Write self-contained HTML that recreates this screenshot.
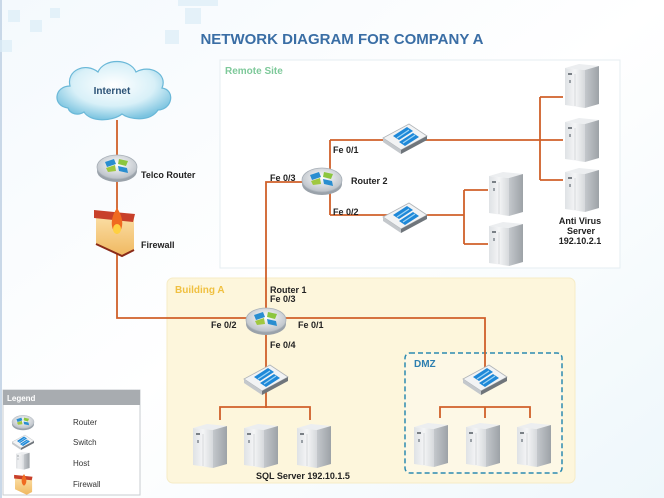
<!DOCTYPE html>
<html><head><meta charset="utf-8"><style>
html,body{margin:0;padding:0;background:#fff;}
svg{display:block;font-family:"Liberation Sans",Arial,sans-serif;}
</style></head><body>
<svg width="664" height="498" viewBox="0 0 664 498" xmlns="http://www.w3.org/2000/svg">
<defs>
<linearGradient id="bg" x1="0" y1="0" x2="1" y2="1"><stop offset="0" stop-color="#f4f9fd"/><stop offset="0.5" stop-color="#ffffff"/><stop offset="1" stop-color="#eef7fb"/></linearGradient>
<linearGradient id="hostg" x1="0" y1="0" x2="1" y2="0"><stop offset="0" stop-color="#dfe2e5"/><stop offset="0.5" stop-color="#f4f5f6"/><stop offset="1" stop-color="#d6d9dc"/></linearGradient>
<linearGradient id="hosts" x1="0" y1="0" x2="1" y2="0"><stop offset="0" stop-color="#c4c8cc"/><stop offset="1" stop-color="#9da2a7"/></linearGradient>
<radialGradient id="rtg" cx="0.5" cy="0.4" r="0.6"><stop offset="0" stop-color="#ffffff"/><stop offset="1" stop-color="#b9bfc6"/></radialGradient>
<linearGradient id="fwg" x1="0" y1="0" x2="0" y2="1"><stop offset="0" stop-color="#fbe0a8"/><stop offset="1" stop-color="#f0b860"/></linearGradient>
<radialGradient id="cloudg" cx="0.5" cy="0.4" r="0.6"><stop offset="0" stop-color="#ffffff"/><stop offset="0.6" stop-color="#d8f0f8"/><stop offset="1" stop-color="#7cc4e0"/></radialGradient>
<g id="router">
<ellipse cx="0" cy="4" rx="20" ry="11" fill="#9aa2aa"/>
<ellipse cx="0" cy="0" rx="20" ry="12" fill="url(#rtg)" stroke="#a8b0b8" stroke-width="0.8"/>
<path d="M-12,-5 L-3,-8 L-1,-3 L-10,0Z" fill="#2a8ed0"/>
<path d="M2,-8 L11,-6 L9,-1 L1,-3Z" fill="#8cc63f"/>
<path d="M-11,1 L-2,-2 L-1,4 L-9,5Z" fill="#a0c840"/>
<path d="M1,-1 L10,1 L11,6 L2,4Z" fill="#2a8ed0"/>
</g>
<g id="switch">
<path d="M-22,2 L4,-12 L22,0 L-4,14Z" fill="#f2f3f4" stroke="#b0b4b8" stroke-width="0.8"/>
<path d="M-22,2 L-4,14 L-4,18 L-22,6Z" fill="#c4c8cc"/>
<path d="M-4,14 L22,0 L22,4 L-4,18Z" fill="#6f757b"/>
<path d="M-12,0 L2,-9 L8,-5 L-6,4Z" fill="#1e88d8"/>
<path d="M-6,6 L8,-3 L14,1 L0,10Z" fill="#1e88d8"/>
<path d="M-8,2 L4,-6" stroke="#9fd6f6" stroke-width="1.2"/>
<path d="M-2,7 L10,-1" stroke="#9fd6f6" stroke-width="1.2"/>
</g>
<g id="host">
<path d="M0,4 L20,6 L20,44 L0,41Z" fill="url(#hostg)"/>
<path d="M0,4 L14,0 L34,2 L20,6Z" fill="#eceef0"/>
<path d="M20,6 L34,2 L34,40 L20,44Z" fill="url(#hosts)"/>
<rect x="3" y="9" width="4" height="2" fill="#7a8086"/>
<rect x="4" y="16" width="2" height="3" fill="#9aa0a6"/>
<line x1="10" y1="10" x2="10" y2="42" stroke="#d0d3d6" stroke-width="0.8"/>
</g>
</defs>
<rect width="664" height="498" fill="url(#bg)"/>
<line x1="1" y1="0" x2="1" y2="498" stroke="#c9d8e8" stroke-width="2"/>
<g fill="#dceef8" opacity="0.7">
<rect x="8" y="10" width="12" height="12"/><rect x="30" y="20" width="12" height="12"/><rect x="0" y="40" width="12" height="12"/><rect x="50" y="8" width="10" height="10"/><rect x="185" y="8" width="16" height="16"/><rect x="165" y="30" width="14" height="14"/><rect x="178" y="0" width="40" height="6"/>
</g>
<text x="342" y="44" font-size="15" font-weight="bold" fill="#3a6ea5" text-anchor="middle">NETWORK DIAGRAM FOR COMPANY A</text>

<rect x="220" y="60" width="400" height="208" fill="#ffffff" stroke="#e6eef2" stroke-width="1"/>
<text x="225" y="74" font-size="10" font-weight="bold" fill="#7ec99a">Remote Site</text>
<rect x="167" y="278" width="408" height="205" rx="6" fill="#fdf6dc" stroke="#f6ecc6"/>
<text x="175" y="293" font-size="10" font-weight="bold" fill="#f0c040">Building A</text>
<rect x="405" y="353" width="157" height="120" rx="5" fill="#fdf8e6" stroke="#2c8ab0" stroke-width="1.5" stroke-dasharray="5,3"/>
<text x="414" y="367" font-size="10" font-weight="bold" fill="#2d7fb0">DMZ</text>

<g stroke="#d0602a" stroke-width="1.8" fill="none">
<path d="M117,120 V318 H485 V372"/>
<path d="M266,318 V182 H316"/>
<path d="M266,318 V408"/>
<path d="M330,140 V215"/>
<path d="M330,140 H540"/>
<path d="M330,215 H464"/>
<path d="M540,97 V180 M540,97 H563 M540,140 H563 M540,180 H563"/>
<path d="M464,190 V244 M464,190 H488 M464,244 H488"/>
<path d="M220,420 V407 H310 V420"/>
<path d="M440,418 V407 H530 V418 M485,407 V418"/>
</g>

<g>
<path d="M68,108 C52,106 54,86 70,86 C66,70 86,62 98,72 C104,58 130,58 136,72 C150,64 168,74 162,88 C176,90 172,110 158,110 C150,122 130,120 122,114 C112,122 90,122 84,112 C78,116 70,114 68,108Z" fill="url(#cloudg)" stroke="#6ab8d8" stroke-width="1.2"/>
<text x="112" y="94" font-size="10" font-weight="bold" fill="#2b5276" text-anchor="middle">Internet</text>
</g>

<use href="#router" x="117" y="167"/>
<text x="141" y="178" font-size="9" font-weight="bold" fill="#222">Telco Router</text>
<g>
<path d="M96,214 L134,216 L134,250 L122,256 L96,244Z" fill="url(#fwg)"/>
<path d="M94,210 L135,214 L133,222 L94,218Z" fill="#c8402a"/>
<path d="M96,244 L122,256 L134,250" stroke="#8a2a18" stroke-width="2" fill="none"/>
<path d="M117,208 C110,218 110,230 117,234 C124,230 124,218 117,208Z" fill="#f06a20"/>
<ellipse cx="117" cy="229" rx="4" ry="5" fill="#ffd040"/>
</g>
<text x="141" y="248" font-size="9" font-weight="bold" fill="#222">Firewall</text>

<use href="#router" x="322" y="180"/>
<text x="270" y="181" font-size="9" font-weight="bold" fill="#222">Fe 0/3</text>
<text x="351" y="184" font-size="9" font-weight="bold" fill="#222">Router 2</text>
<text x="333" y="153" font-size="9" font-weight="bold" fill="#222">Fe 0/1</text>
<text x="333" y="215" font-size="9" font-weight="bold" fill="#222">Fe 0/2</text>
<use href="#switch" x="405" y="136"/>
<use href="#switch" x="405" y="215"/>
<use href="#host" x="565" y="64"/>
<use href="#host" x="565" y="118"/>
<use href="#host" x="565" y="168"/>
<use href="#host" x="489" y="172"/>
<use href="#host" x="489" y="222"/>
<g font-size="9" font-weight="bold" fill="#222" text-anchor="middle">
<text x="580" y="224">Anti Virus</text><text x="581" y="234">Server</text><text x="580" y="244">192.10.2.1</text>
</g>

<use href="#router" x="266" y="320"/>
<g font-size="9" font-weight="bold" fill="#222">
<text x="270" y="293">Router 1</text><text x="270" y="302">Fe 0/3</text>
<text x="211" y="328">Fe 0/2</text><text x="298" y="328">Fe 0/1</text><text x="270" y="348">Fe 0/4</text>
<text x="256" y="479">SQL Server 192.10.1.5</text>
</g>
<use href="#switch" x="266" y="377"/>
<use href="#host" x="193" y="424"/>
<use href="#host" x="244" y="424"/>
<use href="#host" x="297" y="424"/>
<use href="#switch" x="485" y="377"/>
<use href="#host" x="414" y="423"/>
<use href="#host" x="466" y="423"/>
<use href="#host" x="517" y="423"/>

<rect x="3" y="390" width="137" height="105" fill="#ffffff" stroke="#c8ccd0"/>
<rect x="3" y="390" width="137" height="15" fill="#a8acb0"/>
<text x="7" y="401" font-size="8" font-weight="bold" fill="#fff">Legend</text>
<g transform="translate(23,422) scale(0.55)"><use href="#router"/></g>
<g transform="translate(23,441) scale(0.5)"><use href="#switch"/></g>
<g transform="translate(16,452) scale(0.4)"><use href="#host"/></g>
<g transform="translate(15,474) scale(0.45)">
<path d="M0,6 L38,8 L38,40 L26,46 L0,34Z" fill="url(#fwg)"/><path d="M-2,2 L39,6 L37,14 L-2,10Z" fill="#c8402a"/><path d="M20,0 C13,10 13,22 20,26 C27,22 27,10 20,0Z" fill="#f06a20"/>
</g>
<g font-size="8" fill="#333">
<text x="73" y="425">Router</text><text x="73" y="445">Switch</text><text x="73" y="466">Host</text><text x="73" y="487">Firewall</text>
</g>
</svg>
</body></html>
